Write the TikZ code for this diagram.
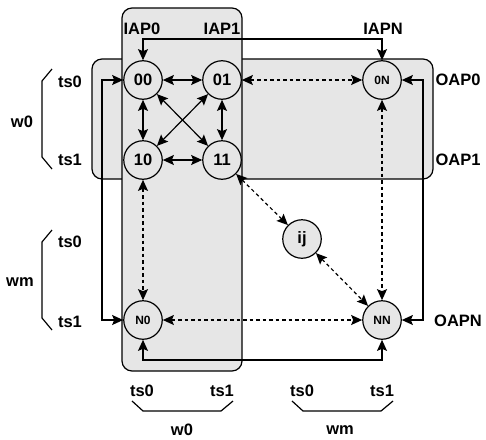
\documentclass[tikz,border=0pt]{standalone}
\usepackage{fontspec}
\setmainfont{Liberation Sans}
\usetikzlibrary{arrows.meta}
\definecolor{boxgray}{HTML}{E6E6E6}
\begin{document}
\begin{tikzpicture}[x=1pt,y=-1pt,
  >={Stealth[length=11pt,width=10pt,inset=2pt]},
  lbl/.style={font=\fontsize{16.5}{19}\selectfont\bfseries, inner sep=0pt},
  nd/.style={circle, draw, fill=boxgray, line width=1.2pt, minimum size=38.5pt, inner sep=0pt,
    font=\fontsize{16.5}{19}\selectfont\bfseries},
  ndsmall/.style={nd, font=\fontsize{12}{14}\selectfont\bfseries},
  link/.style={line width=1.2pt},
  dsh/.style={link, dash pattern=on 3.5pt off 3pt},
  region/.style={draw, fill=boxgray, line width=1.2pt, rounded corners=10pt, inner sep=0pt},
  bracket/.style={line width=1.2pt}
]
\useasboundingbox (0,0) rectangle (486,439);
% regions
\node[region, minimum width=341pt, minimum height=120pt] (row0) at (262.5,119) {};
\node[region, minimum width=120pt, minimum height=363pt] (col0) at (182,189.5) {};
% nodes
\node[nd] (00) at (143,80) {00};
\node[nd] (01) at (222,80) {01};
\node[nd] (10) at (143,160) {10};
\node[nd] (11) at (222,160) {11};
\node[ndsmall] (0N) at (382,80) {0N};
\node[ndsmall] (N0) at (143,320) {N0};
\node[ndsmall] (NN) at (382,320) {NN};
\node[nd] (ij) at (302,239) {ij};
% solid links
\draw[link,<->] (00) -- (01);
\draw[link,<->] (00) -- (10);
\draw[link,<->] (01) -- (11);
\draw[link,<->] (10) -- (11);
\draw[link,<->] (00) -- (11);
\draw[link,<->] (01) -- (10);
% dashed links
\draw[dsh,<->] (01) -- (0N);
\draw[dsh,<->] (0N) -- (NN);
\draw[dsh,<->] (10) -- (N0);
\draw[dsh,<->] (N0) -- (NN);
\draw[dsh,<->] (11) -- (ij);
\draw[dsh,<->] (ij) -- (NN);
% outer loops
\coordinate (topline) at (260,39);
\coordinate (leftline) at (102,200);
\coordinate (rightline) at (423,200);
\coordinate (botline) at (260,360);
\draw[link,<->] (00.north) |- (topline) -| (0N.north);
\draw[link,<->] (00.west) -| (leftline) |- (N0.west);
\draw[link,<->] (0N.east) -| (rightline) |- (NN.east);
\draw[link,<->] (N0.south) |- (botline) -| (NN.south);
% labels
\node[lbl] (iap0) at (142,29) {IAP0};
\node[lbl] (iap1) at (222,29) {IAP1};
\node[lbl] (iapn) at (383,29) {IAPN};
\node[lbl] (oap0) at (458,80) {OAP0};
\node[lbl] (oap1) at (458,160) {OAP1};
\node[lbl] (oapn) at (458,321) {OAPN};
\node[lbl] (lts0a) at (70,82) {ts0};
\node[lbl] (lts1a) at (70,160) {ts1};
\node[lbl] (lw0) at (22,122) {w0};
\node[lbl] (lts0b) at (70,242) {ts0};
\node[lbl] (lts1b) at (70,322) {ts1};
\node[lbl] (lwm) at (20,282) {wm};
\node[lbl] (bts0a) at (142,391) {ts0};
\node[lbl] (bts1a) at (222,391) {ts1};
\node[lbl] (bw0) at (182,430) {w0};
\node[lbl] (bts0b) at (302,391) {ts0};
\node[lbl] (bts1b) at (382,391) {ts1};
\node[lbl] (bwm) at (340,430) {wm};
% brackets
\draw[bracket] (52,69) -- (42,81) -- (42,157) -- (52,169);
\draw[bracket] (52,230) -- (42,242) -- (42,318) -- (52,330);
\draw[bracket] (132,401) -- (143,411) -- (221,411) -- (233,401);
\draw[bracket] (292,401) -- (303,411) -- (381,411) -- (393,401);
\end{tikzpicture}
\end{document}
